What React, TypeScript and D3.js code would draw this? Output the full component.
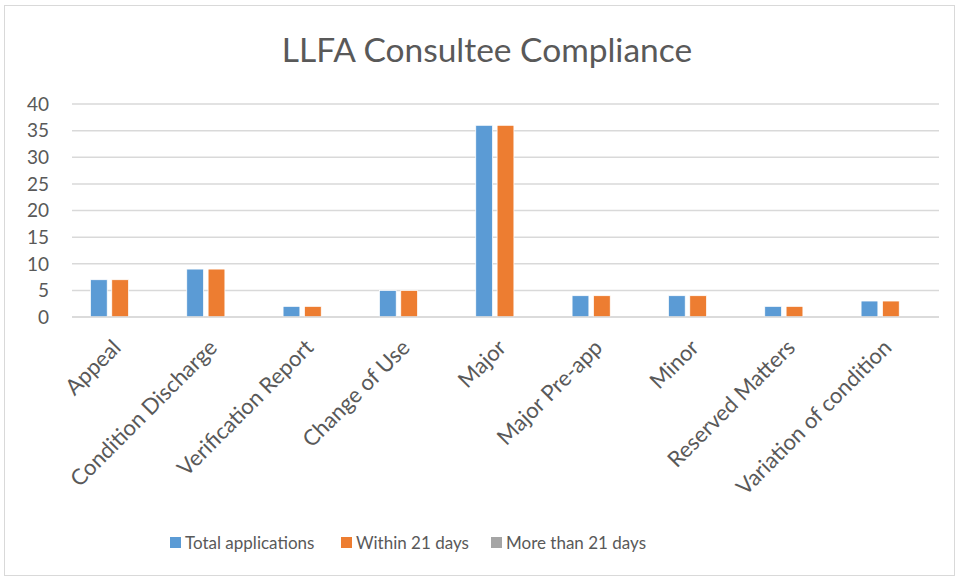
import React from 'react';
import * as d3 from 'd3';

const categories = [
  'Appeal',
  'Condition Discharge',
  'Verification Report',
  'Change of Use',
  'Major',
  'Major Pre-app',
  'Minor',
  'Reserved Matters',
  'Variation of condition',
];
const seriesNames = ['Total applications', 'Within 21 days', 'More than 21 days'];
const totalApplications = [7, 9, 2, 5, 36, 4, 4, 2, 3];
const within21Days = [7, 9, 2, 5, 36, 4, 4, 2, 3];
const moreThan21Days = [0, 0, 0, 0, 0, 0, 0, 0, 0];
const yTicks = [0, 5, 10, 15, 20, 25, 30, 35, 40];
const colors = ['#5B9BD5', '#ED7D31', '#A5A5A5'];

const width = 959;
const height = 579;
const margin = { top: 104, right: 20, bottom: 262, left: 72 };
const font = 'Lato, "Open Sans", sans-serif';

export default function App() {
  const plotW = 939 - margin.left;
  const plotH = 317 - margin.top;
  const series = [totalApplications, within21Days, moreThan21Days];

  // Excel-like cluster: gap width 219%, overlap -27%
  const x = d3.scaleBand().domain(categories).range([0, plotW]).padding(0);
  const barW = x.bandwidth() / (3 + 2 * 0.27 + 2.19);
  const barGap = barW * 0.27;
  const groupW = 3 * barW + 2 * barGap;
  const y = d3.scaleLinear().domain([0, 40]).range([plotH, 0]);

  const legendItems = [
    { x: 170, name: seriesNames[0], color: colors[0] },
    { x: 341, name: seriesNames[1], color: colors[1] },
    { x: 491, name: seriesNames[2], color: colors[2] },
  ];

  return (
    <div style={{ position: 'absolute', left: 0, top: 0 }}>
      <svg width={width} height={height} style={{ display: 'block' }}>
        <rect x={0} y={0} width={width} height={height} fill="#fff" />
        <rect x={4.5} y={5.5} width={950} height={570} fill="#fff" stroke="#d9d9d9" strokeWidth={1} />
        <text
          x={487}
          y={62}
          textAnchor="middle"
          fontFamily={font}
          fontSize={33.5}
          fill="#595959"
        >
          LLFA Consultee Compliance
        </text>
        <g transform={`translate(${margin.left},${margin.top})`}>
          {yTicks.map(t => (
            <g key={t}>
              <line x1={0} x2={plotW} y1={y(t)} y2={y(t)} stroke="#d9d9d9" strokeWidth={1.5} />
              <text
                x={-23}
                y={y(t)}
                dy="0.36em"
                textAnchor="end"
                fontFamily={font}
                fontSize={19}
                fill="#595959"
              >
                {t}
              </text>
            </g>
          ))}
          {categories.map((c, i) => {
            const x0 = (x(c) as number) + (x.bandwidth() - groupW) / 2;
            return (
              <g key={c}>
                {series.map((s, j) =>
                  s[i] > 0 ? (
                    <rect
                      key={j}
                      x={x0 + j * (barW + barGap)}
                      y={y(s[i])}
                      width={barW}
                      height={y(0) - y(s[i])}
                      fill={colors[j]}
                      stroke="#fff"
                      strokeWidth={0.75}
                    />
                  ) : null
                )}
              </g>
            );
          })}
          <line x1={0} x2={plotW} y1={y(0)} y2={y(0)} stroke="#d9d9d9" strokeWidth={1.5} />
          {categories.map(c => {
            const cx = (x(c) as number) + x.bandwidth() / 2 + 2;
            const cy = plotH + 32;
            return (
              <text
                key={c}
                transform={`translate(${cx},${cy}) rotate(-45)`}
                textAnchor="end"
                fontFamily={font}
                fontSize={22}
                fill="#595959"
              >
                {c}
              </text>
            );
          })}
        </g>
        {legendItems.map(d => (
          <g key={d.name}>
            <rect x={d.x} y={537} width={11} height={11} fill={d.color} />
            <text
              x={d.x + 15}
              y={543}
              dy="0.36em"
              fontFamily={font}
              fontSize={17}
              fill="#595959"
            >
              {d.name}
            </text>
          </g>
        ))}
      </svg>
    </div>
  );
}
